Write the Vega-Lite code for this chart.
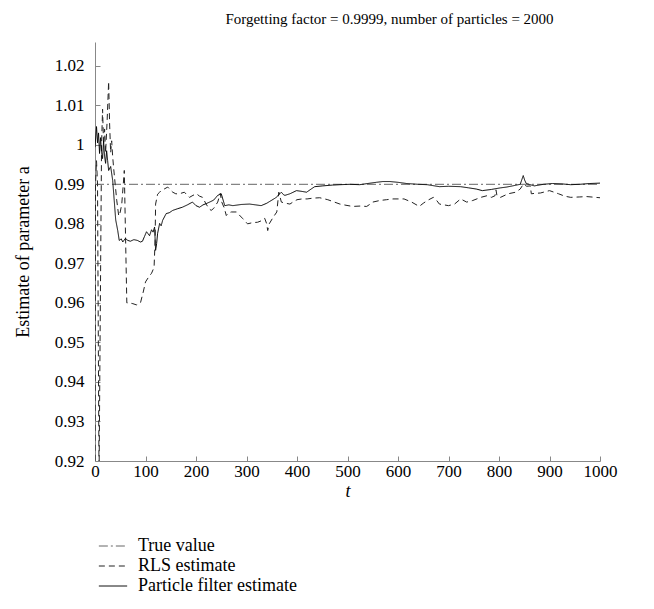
{
  "$schema": "https://vega.github.io/schema/vega-lite/v6.json",
  "autosize": {"type": "none"},
  "width": 505,
  "height": 419,
  "padding": {"left": 95, "top": 42, "right": 54, "bottom": 148},
  "background": "white",
  "config": {
    "view": {"stroke": null},
    "font": "Liberation Serif",
    "axis": {"grid": false, "domainColor": "#888888", "tickColor": "#888888", "tickSize": -5, "labelFont": "Liberation Serif", "labelFontSize": 17, "labelColor": "#000", "titleFont": "Liberation Serif", "titleFontSize": 18, "titleFontWeight": "normal", "titleColor": "#000"}
  },
  "title": {"text": "Forgetting factor = 0.9999, number of particles = 2000", "font": "Liberation Serif", "fontSize": 15, "fontWeight": "normal", "color": "#000", "anchor": "middle", "dx": 42, "offset": 15},
  "datasets": {
    "d": [
      {"s": "True value", "t": 0, "v": 0.99},
      {"s": "True value", "t": 1000, "v": 0.99},
      {"s": "RLS estimate", "t": 0, "v": 0.915},
      {"s": "RLS estimate", "t": 1, "v": 0.99},
      {"s": "RLS estimate", "t": 3, "v": 0.996},
      {"s": "RLS estimate", "t": 5, "v": 0.99},
      {"s": "RLS estimate", "t": 8, "v": 0.915},
      {"s": "RLS estimate", "t": 10, "v": 0.95},
      {"s": "RLS estimate", "t": 13, "v": 1.0},
      {"s": "RLS estimate", "t": 15, "v": 1.009},
      {"s": "RLS estimate", "t": 17, "v": 1.0},
      {"s": "RLS estimate", "t": 19, "v": 1.004},
      {"s": "RLS estimate", "t": 21, "v": 0.998},
      {"s": "RLS estimate", "t": 24, "v": 1.006},
      {"s": "RLS estimate", "t": 27, "v": 1.016},
      {"s": "RLS estimate", "t": 29, "v": 1.005},
      {"s": "RLS estimate", "t": 31, "v": 0.998},
      {"s": "RLS estimate", "t": 33, "v": 1.001},
      {"s": "RLS estimate", "t": 35, "v": 0.997},
      {"s": "RLS estimate", "t": 37, "v": 0.994},
      {"s": "RLS estimate", "t": 40, "v": 0.99},
      {"s": "RLS estimate", "t": 43, "v": 0.986},
      {"s": "RLS estimate", "t": 47, "v": 0.982},
      {"s": "RLS estimate", "t": 50, "v": 0.983},
      {"s": "RLS estimate", "t": 53, "v": 0.985},
      {"s": "RLS estimate", "t": 56, "v": 0.99},
      {"s": "RLS estimate", "t": 58, "v": 0.9935},
      {"s": "RLS estimate", "t": 60, "v": 0.98},
      {"s": "RLS estimate", "t": 63, "v": 0.96},
      {"s": "RLS estimate", "t": 68, "v": 0.96},
      {"s": "RLS estimate", "t": 75, "v": 0.9598},
      {"s": "RLS estimate", "t": 82, "v": 0.9595},
      {"s": "RLS estimate", "t": 90, "v": 0.96},
      {"s": "RLS estimate", "t": 96, "v": 0.963},
      {"s": "RLS estimate", "t": 100, "v": 0.9653},
      {"s": "RLS estimate", "t": 106, "v": 0.9665},
      {"s": "RLS estimate", "t": 112, "v": 0.9675},
      {"s": "RLS estimate", "t": 117, "v": 0.969},
      {"s": "RLS estimate", "t": 119, "v": 0.9758},
      {"s": "RLS estimate", "t": 120, "v": 0.985},
      {"s": "RLS estimate", "t": 124, "v": 0.9875},
      {"s": "RLS estimate", "t": 128, "v": 0.988},
      {"s": "RLS estimate", "t": 131, "v": 0.9884},
      {"s": "RLS estimate", "t": 137, "v": 0.9888},
      {"s": "RLS estimate", "t": 144, "v": 0.9893},
      {"s": "RLS estimate", "t": 150, "v": 0.9885},
      {"s": "RLS estimate", "t": 154, "v": 0.988},
      {"s": "RLS estimate", "t": 160, "v": 0.9876},
      {"s": "RLS estimate", "t": 167, "v": 0.9876},
      {"s": "RLS estimate", "t": 177, "v": 0.988},
      {"s": "RLS estimate", "t": 183, "v": 0.9872},
      {"s": "RLS estimate", "t": 187, "v": 0.9867},
      {"s": "RLS estimate", "t": 194, "v": 0.9872},
      {"s": "RLS estimate", "t": 201, "v": 0.9876},
      {"s": "RLS estimate", "t": 207, "v": 0.987},
      {"s": "RLS estimate", "t": 213, "v": 0.9867},
      {"s": "RLS estimate", "t": 220, "v": 0.985},
      {"s": "RLS estimate", "t": 226, "v": 0.9838},
      {"s": "RLS estimate", "t": 230, "v": 0.9834},
      {"s": "RLS estimate", "t": 235, "v": 0.9839},
      {"s": "RLS estimate", "t": 243, "v": 0.9855},
      {"s": "RLS estimate", "t": 248, "v": 0.9877},
      {"s": "RLS estimate", "t": 251, "v": 0.9855},
      {"s": "RLS estimate", "t": 256, "v": 0.984},
      {"s": "RLS estimate", "t": 260, "v": 0.9821},
      {"s": "RLS estimate", "t": 265, "v": 0.9828},
      {"s": "RLS estimate", "t": 270, "v": 0.983},
      {"s": "RLS estimate", "t": 280, "v": 0.983},
      {"s": "RLS estimate", "t": 292, "v": 0.9814},
      {"s": "RLS estimate", "t": 302, "v": 0.98},
      {"s": "RLS estimate", "t": 312, "v": 0.9803},
      {"s": "RLS estimate", "t": 322, "v": 0.9804},
      {"s": "RLS estimate", "t": 330, "v": 0.9808},
      {"s": "RLS estimate", "t": 336, "v": 0.9814},
      {"s": "RLS estimate", "t": 340, "v": 0.98},
      {"s": "RLS estimate", "t": 342, "v": 0.9783},
      {"s": "RLS estimate", "t": 345, "v": 0.98},
      {"s": "RLS estimate", "t": 352, "v": 0.9815},
      {"s": "RLS estimate", "t": 360, "v": 0.983},
      {"s": "RLS estimate", "t": 364, "v": 0.988},
      {"s": "RLS estimate", "t": 369, "v": 0.9855},
      {"s": "RLS estimate", "t": 378, "v": 0.9852},
      {"s": "RLS estimate", "t": 386, "v": 0.985},
      {"s": "RLS estimate", "t": 393, "v": 0.9856},
      {"s": "RLS estimate", "t": 400, "v": 0.9861},
      {"s": "RLS estimate", "t": 410, "v": 0.9863},
      {"s": "RLS estimate", "t": 420, "v": 0.9863},
      {"s": "RLS estimate", "t": 432, "v": 0.9865},
      {"s": "RLS estimate", "t": 445, "v": 0.9866},
      {"s": "RLS estimate", "t": 461, "v": 0.9861},
      {"s": "RLS estimate", "t": 472, "v": 0.9856},
      {"s": "RLS estimate", "t": 485, "v": 0.985},
      {"s": "RLS estimate", "t": 497, "v": 0.9847},
      {"s": "RLS estimate", "t": 510, "v": 0.9844},
      {"s": "RLS estimate", "t": 525, "v": 0.9845},
      {"s": "RLS estimate", "t": 538, "v": 0.9844},
      {"s": "RLS estimate", "t": 545, "v": 0.985},
      {"s": "RLS estimate", "t": 550, "v": 0.9855},
      {"s": "RLS estimate", "t": 564, "v": 0.9859},
      {"s": "RLS estimate", "t": 577, "v": 0.9861},
      {"s": "RLS estimate", "t": 590, "v": 0.9863},
      {"s": "RLS estimate", "t": 612, "v": 0.9863},
      {"s": "RLS estimate", "t": 627, "v": 0.9855},
      {"s": "RLS estimate", "t": 642, "v": 0.9844},
      {"s": "RLS estimate", "t": 650, "v": 0.9852},
      {"s": "RLS estimate", "t": 658, "v": 0.9859},
      {"s": "RLS estimate", "t": 670, "v": 0.9867},
      {"s": "RLS estimate", "t": 676, "v": 0.986},
      {"s": "RLS estimate", "t": 682, "v": 0.985},
      {"s": "RLS estimate", "t": 700, "v": 0.9846},
      {"s": "RLS estimate", "t": 712, "v": 0.985},
      {"s": "RLS estimate", "t": 724, "v": 0.9863},
      {"s": "RLS estimate", "t": 736, "v": 0.9855},
      {"s": "RLS estimate", "t": 748, "v": 0.9859},
      {"s": "RLS estimate", "t": 764, "v": 0.9867},
      {"s": "RLS estimate", "t": 776, "v": 0.9871},
      {"s": "RLS estimate", "t": 785, "v": 0.9867},
      {"s": "RLS estimate", "t": 792, "v": 0.9871},
      {"s": "RLS estimate", "t": 794, "v": 0.9886},
      {"s": "RLS estimate", "t": 796, "v": 0.9871},
      {"s": "RLS estimate", "t": 803, "v": 0.9867},
      {"s": "RLS estimate", "t": 818, "v": 0.9876},
      {"s": "RLS estimate", "t": 833, "v": 0.988},
      {"s": "RLS estimate", "t": 842, "v": 0.9888},
      {"s": "RLS estimate", "t": 848, "v": 0.99},
      {"s": "RLS estimate", "t": 855, "v": 0.9895},
      {"s": "RLS estimate", "t": 862, "v": 0.9896},
      {"s": "RLS estimate", "t": 864, "v": 0.9876},
      {"s": "RLS estimate", "t": 870, "v": 0.9877},
      {"s": "RLS estimate", "t": 882, "v": 0.9878},
      {"s": "RLS estimate", "t": 900, "v": 0.9884},
      {"s": "RLS estimate", "t": 918, "v": 0.9876},
      {"s": "RLS estimate", "t": 930, "v": 0.987},
      {"s": "RLS estimate", "t": 942, "v": 0.9867},
      {"s": "RLS estimate", "t": 960, "v": 0.9868},
      {"s": "RLS estimate", "t": 973, "v": 0.9869},
      {"s": "RLS estimate", "t": 1000, "v": 0.9866},
      {"s": "Particle filter estimate", "t": 0, "v": 0.9994},
      {"s": "Particle filter estimate", "t": 3, "v": 1.0046},
      {"s": "Particle filter estimate", "t": 5, "v": 1.0005},
      {"s": "Particle filter estimate", "t": 7, "v": 1.003},
      {"s": "Particle filter estimate", "t": 9, "v": 0.9978},
      {"s": "Particle filter estimate", "t": 11, "v": 1.0018},
      {"s": "Particle filter estimate", "t": 13, "v": 0.998},
      {"s": "Particle filter estimate", "t": 15, "v": 0.9965},
      {"s": "Particle filter estimate", "t": 17, "v": 1.001},
      {"s": "Particle filter estimate", "t": 19, "v": 0.997},
      {"s": "Particle filter estimate", "t": 21, "v": 0.9953},
      {"s": "Particle filter estimate", "t": 23, "v": 0.9985},
      {"s": "Particle filter estimate", "t": 25, "v": 0.996},
      {"s": "Particle filter estimate", "t": 27, "v": 0.9935},
      {"s": "Particle filter estimate", "t": 31, "v": 0.9945},
      {"s": "Particle filter estimate", "t": 35, "v": 0.991},
      {"s": "Particle filter estimate", "t": 38, "v": 0.986},
      {"s": "Particle filter estimate", "t": 41, "v": 0.981},
      {"s": "Particle filter estimate", "t": 45, "v": 0.9783},
      {"s": "Particle filter estimate", "t": 48, "v": 0.9758},
      {"s": "Particle filter estimate", "t": 52, "v": 0.9762},
      {"s": "Particle filter estimate", "t": 55, "v": 0.9754},
      {"s": "Particle filter estimate", "t": 60, "v": 0.9763},
      {"s": "Particle filter estimate", "t": 65, "v": 0.9758},
      {"s": "Particle filter estimate", "t": 70, "v": 0.9756},
      {"s": "Particle filter estimate", "t": 77, "v": 0.976},
      {"s": "Particle filter estimate", "t": 84, "v": 0.9758},
      {"s": "Particle filter estimate", "t": 90, "v": 0.9754},
      {"s": "Particle filter estimate", "t": 94, "v": 0.9756},
      {"s": "Particle filter estimate", "t": 98, "v": 0.9768},
      {"s": "Particle filter estimate", "t": 102, "v": 0.978},
      {"s": "Particle filter estimate", "t": 105, "v": 0.9775},
      {"s": "Particle filter estimate", "t": 108, "v": 0.977},
      {"s": "Particle filter estimate", "t": 112, "v": 0.9785},
      {"s": "Particle filter estimate", "t": 115, "v": 0.9779},
      {"s": "Particle filter estimate", "t": 118, "v": 0.9792},
      {"s": "Particle filter estimate", "t": 120, "v": 0.9733},
      {"s": "Particle filter estimate", "t": 122, "v": 0.975},
      {"s": "Particle filter estimate", "t": 124, "v": 0.9776},
      {"s": "Particle filter estimate", "t": 128, "v": 0.9801},
      {"s": "Particle filter estimate", "t": 131, "v": 0.9795},
      {"s": "Particle filter estimate", "t": 134, "v": 0.9809},
      {"s": "Particle filter estimate", "t": 141, "v": 0.9826},
      {"s": "Particle filter estimate", "t": 147, "v": 0.9828},
      {"s": "Particle filter estimate", "t": 154, "v": 0.9834},
      {"s": "Particle filter estimate", "t": 163, "v": 0.9838},
      {"s": "Particle filter estimate", "t": 173, "v": 0.9842},
      {"s": "Particle filter estimate", "t": 183, "v": 0.9848},
      {"s": "Particle filter estimate", "t": 193, "v": 0.9855},
      {"s": "Particle filter estimate", "t": 200, "v": 0.9846},
      {"s": "Particle filter estimate", "t": 207, "v": 0.9842},
      {"s": "Particle filter estimate", "t": 214, "v": 0.9848},
      {"s": "Particle filter estimate", "t": 220, "v": 0.9851},
      {"s": "Particle filter estimate", "t": 227, "v": 0.9855},
      {"s": "Particle filter estimate", "t": 235, "v": 0.986},
      {"s": "Particle filter estimate", "t": 243, "v": 0.9872},
      {"s": "Particle filter estimate", "t": 250, "v": 0.9876},
      {"s": "Particle filter estimate", "t": 257, "v": 0.9846},
      {"s": "Particle filter estimate", "t": 265, "v": 0.9848},
      {"s": "Particle filter estimate", "t": 273, "v": 0.9846},
      {"s": "Particle filter estimate", "t": 290, "v": 0.9849},
      {"s": "Particle filter estimate", "t": 306, "v": 0.985},
      {"s": "Particle filter estimate", "t": 318, "v": 0.9848},
      {"s": "Particle filter estimate", "t": 329, "v": 0.9846},
      {"s": "Particle filter estimate", "t": 340, "v": 0.9852},
      {"s": "Particle filter estimate", "t": 349, "v": 0.9859},
      {"s": "Particle filter estimate", "t": 358, "v": 0.9866},
      {"s": "Particle filter estimate", "t": 366, "v": 0.9876},
      {"s": "Particle filter estimate", "t": 369, "v": 0.988},
      {"s": "Particle filter estimate", "t": 373, "v": 0.9874},
      {"s": "Particle filter estimate", "t": 376, "v": 0.9872},
      {"s": "Particle filter estimate", "t": 386, "v": 0.9876},
      {"s": "Particle filter estimate", "t": 399, "v": 0.9884},
      {"s": "Particle filter estimate", "t": 410, "v": 0.9882},
      {"s": "Particle filter estimate", "t": 419, "v": 0.988},
      {"s": "Particle filter estimate", "t": 428, "v": 0.9888},
      {"s": "Particle filter estimate", "t": 435, "v": 0.9894},
      {"s": "Particle filter estimate", "t": 451, "v": 0.9896},
      {"s": "Particle filter estimate", "t": 470, "v": 0.9898},
      {"s": "Particle filter estimate", "t": 485, "v": 0.9899},
      {"s": "Particle filter estimate", "t": 505, "v": 0.99},
      {"s": "Particle filter estimate", "t": 524, "v": 0.9899},
      {"s": "Particle filter estimate", "t": 540, "v": 0.9902},
      {"s": "Particle filter estimate", "t": 557, "v": 0.9905},
      {"s": "Particle filter estimate", "t": 570, "v": 0.9907},
      {"s": "Particle filter estimate", "t": 584, "v": 0.9907},
      {"s": "Particle filter estimate", "t": 600, "v": 0.9905},
      {"s": "Particle filter estimate", "t": 617, "v": 0.9902},
      {"s": "Particle filter estimate", "t": 640, "v": 0.99},
      {"s": "Particle filter estimate", "t": 658, "v": 0.9899},
      {"s": "Particle filter estimate", "t": 682, "v": 0.9894},
      {"s": "Particle filter estimate", "t": 700, "v": 0.9895},
      {"s": "Particle filter estimate", "t": 724, "v": 0.9894},
      {"s": "Particle filter estimate", "t": 740, "v": 0.9891},
      {"s": "Particle filter estimate", "t": 755, "v": 0.9888},
      {"s": "Particle filter estimate", "t": 767, "v": 0.9884},
      {"s": "Particle filter estimate", "t": 785, "v": 0.9887},
      {"s": "Particle filter estimate", "t": 803, "v": 0.9891},
      {"s": "Particle filter estimate", "t": 815, "v": 0.9893},
      {"s": "Particle filter estimate", "t": 827, "v": 0.9896},
      {"s": "Particle filter estimate", "t": 842, "v": 0.99},
      {"s": "Particle filter estimate", "t": 848, "v": 0.9922},
      {"s": "Particle filter estimate", "t": 851, "v": 0.991},
      {"s": "Particle filter estimate", "t": 854, "v": 0.9902},
      {"s": "Particle filter estimate", "t": 870, "v": 0.9896},
      {"s": "Particle filter estimate", "t": 888, "v": 0.99},
      {"s": "Particle filter estimate", "t": 906, "v": 0.9902},
      {"s": "Particle filter estimate", "t": 925, "v": 0.9901},
      {"s": "Particle filter estimate", "t": 942, "v": 0.9899},
      {"s": "Particle filter estimate", "t": 960, "v": 0.99},
      {"s": "Particle filter estimate", "t": 980, "v": 0.9902},
      {"s": "Particle filter estimate", "t": 1000, "v": 0.9903}
    ]
  },
  "data": {"name": "d"},
  "mark": {"type": "line", "strokeWidth": 1, "clip": true},
  "encoding": {
    "x": {"field": "t", "type": "quantitative", "scale": {"domain": [0, 1000], "nice": false}, "axis": {"values": [0, 100, 200, 300, 400, 500, 600, 700, 800, 900, 1000], "format": "d", "title": "t", "titleFontStyle": "italic", "labelPadding": 7, "titlePadding": 3, "labelFlush": false}},
    "y": {"field": "v", "type": "quantitative", "scale": {"domain": [0.92, 1.026], "nice": false, "zero": false}, "axis": {"values": [0.92, 0.93, 0.94, 0.95, 0.96, 0.97, 0.98, 0.99, 1.0, 1.01, 1.02], "format": ".2~f", "title": "Estimate of parameter a", "labelPadding": 16, "titlePadding": 22, "labelFlush": false}},
    "color": {"field": "s", "type": "nominal", "scale": {"domain": ["True value", "RLS estimate", "Particle filter estimate"], "range": ["#666666", "#222222", "#000000"]}, "legend": {"title": null, "orient": "none", "legendX": 3, "legendY": 494, "direction": "vertical", "symbolType": "stroke", "symbolSize": 800, "symbolStrokeWidth": 1, "labelFont": "Liberation Serif", "labelFontSize": 18, "labelColor": "#000", "labelOffset": 10, "rowPadding": 0, "clipHeight": 20, "padding": 0, "labelLimit": 400}},
    "strokeDash": {"field": "s", "type": "nominal", "scale": {"domain": ["True value", "RLS estimate", "Particle filter estimate"], "range": [[9, 3, 2, 3], [6, 4], [1, 0]]}, "legend": {"title": null, "orient": "none", "legendX": 3, "legendY": 494, "direction": "vertical", "symbolType": "stroke", "symbolSize": 800, "symbolStrokeWidth": 1, "labelFont": "Liberation Serif", "labelFontSize": 18, "labelColor": "#000", "labelOffset": 10, "rowPadding": 0, "clipHeight": 20, "padding": 0, "labelLimit": 400}}
  }
}
